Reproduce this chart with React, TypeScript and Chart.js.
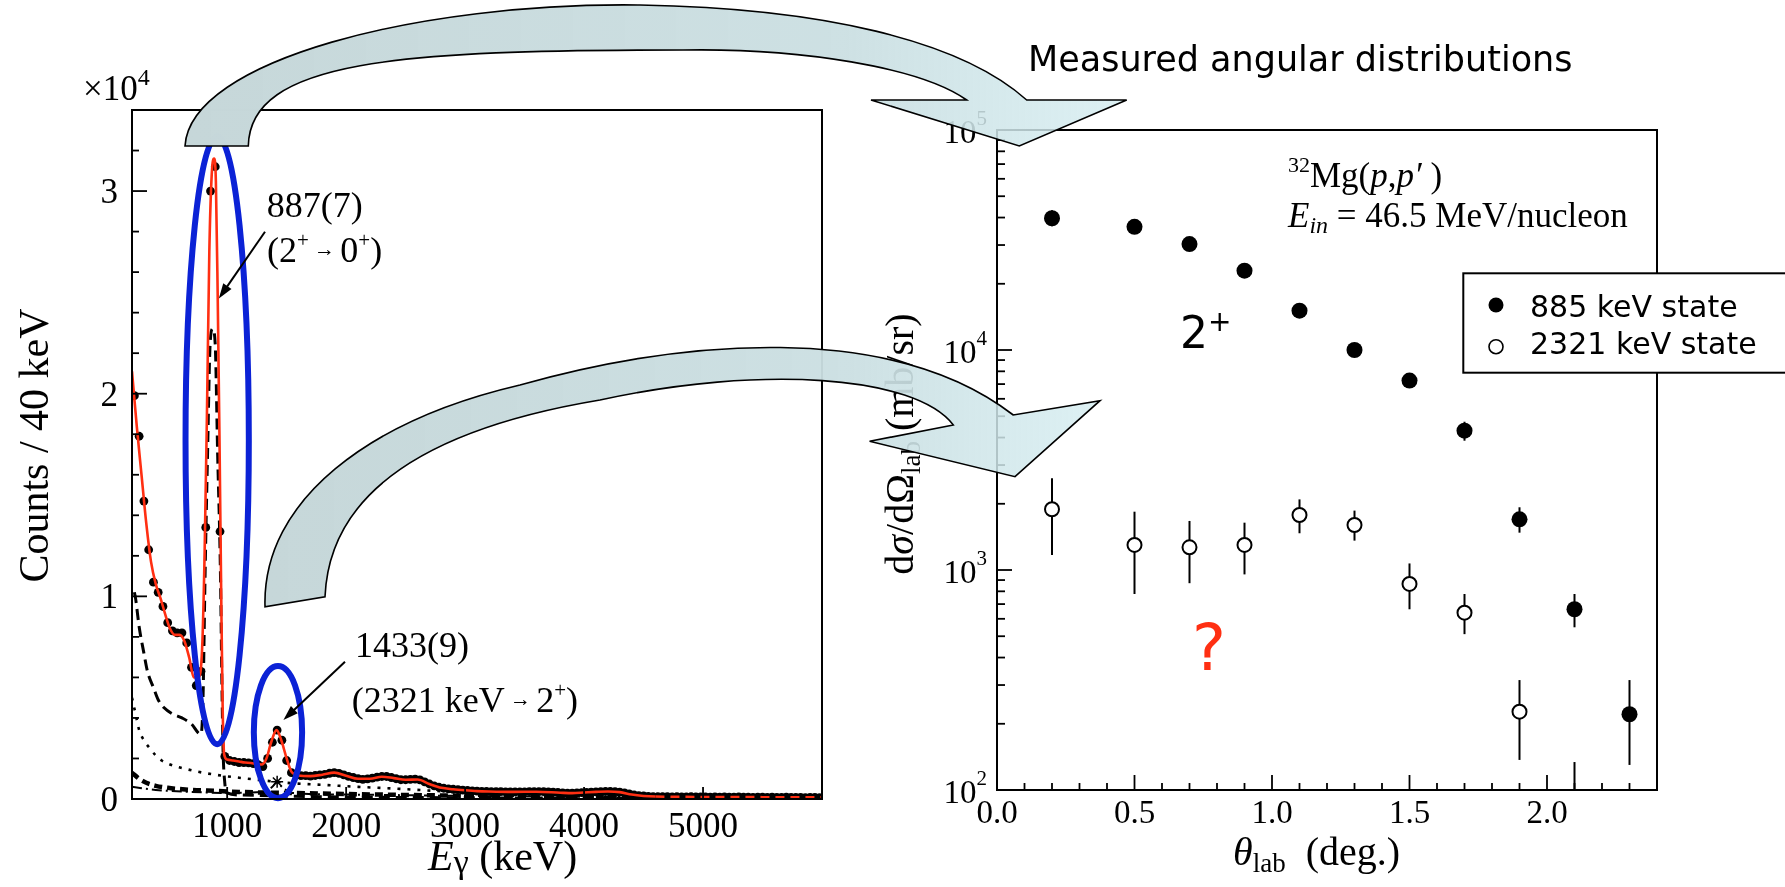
import React, { useEffect, useRef } from "react";
import { Chart, registerables } from "chart.js";

Chart.register(...registerables);

const SERIF = '"Liberation Serif", "Times New Roman", Times, serif';
const SANS = '"DejaVu Sans", Verdana, sans-serif';
const RED = "#ff2f12";
const BLUE = "#0b22d6";

// ---------------- Left panel: gamma-ray spectrum (counts in units of 10^4 / 40 keV) ----------------
const peakRegionE = [220, 260, 300, 340, 380, 420, 460, 500, 540, 580, 620, 660, 700, 740, 780, 820, 860, 900, 940, 980,
  1020, 1060, 1100, 1140, 1180, 1220, 1260, 1300, 1340, 1380, 1420, 1460, 1500, 1540];
const peakRegionCounts = [1.99, 1.79, 1.47, 1.23, 1.07, 1.02, 0.95, 0.87, 0.83, 0.82, 0.82, 0.77, 0.65, 0.56, 0.63, 1.34, 3.0, 3.12, 1.32, 0.21,
  0.19, 0.185, 0.18, 0.18, 0.178, 0.175, 0.17, 0.16, 0.2, 0.28, 0.34, 0.29, 0.19, 0.13];

const tailE = [
  1580, 1620, 1660, 1700, 1740, 1780, 1820, 1860, 1900, 1940,
  1980, 2020, 2060, 2100, 2140, 2180, 2220, 2260, 2300, 2340,
  2380, 2420, 2460, 2500, 2540, 2580, 2620, 2660, 2700, 2740,
  2780, 2820, 2860, 2900, 2940, 2980, 3020, 3060, 3100, 3140,
  3180, 3220, 3260, 3300, 3340, 3380, 3420, 3460, 3500, 3540,
  3580, 3620, 3660, 3700, 3740, 3780, 3820, 3860, 3900, 3940,
  3980, 4020, 4060, 4100, 4140, 4180, 4220, 4260, 4300, 4340,
  4380, 4420, 4460, 4500, 4540, 4580, 4620, 4660, 4700, 4740,
  4780, 4820, 4860, 4900, 4940, 4980, 5020, 5060, 5100, 5140,
  5180, 5220, 5260, 5300, 5340, 5380, 5420, 5460, 5500, 5540,
  5580, 5620, 5660, 5700, 5740, 5780, 5820, 5860, 5900, 5940,
  5980];
const tailCounts = [
  0.12, 0.115, 0.115, 0.113, 0.116, 0.119, 0.122, 0.127, 0.13, 0.126,
  0.119, 0.112, 0.106, 0.101, 0.097, 0.099, 0.103, 0.108, 0.111, 0.111,
  0.106, 0.1, 0.095, 0.095, 0.097, 0.098, 0.094, 0.085, 0.074, 0.065,
  0.058, 0.053, 0.05, 0.048, 0.046, 0.044, 0.042, 0.04, 0.039, 0.038,
  0.037, 0.036, 0.036, 0.036, 0.035, 0.035, 0.035, 0.035, 0.035, 0.036,
  0.036, 0.036, 0.036, 0.035, 0.034, 0.032, 0.03, 0.029, 0.029, 0.03,
  0.031, 0.033, 0.034, 0.035, 0.036, 0.037, 0.037, 0.036, 0.034, 0.03,
  0.025, 0.02, 0.017, 0.015, 0.013, 0.012, 0.011, 0.011, 0.011, 0.01,
  0.011, 0.01, 0.01, 0.011, 0.01, 0.01, 0.01, 0.009, 0.01, 0.009,
  0.01, 0.009, 0.009, 0.01, 0.009, 0.009, 0.008, 0.009, 0.009, 0.008,
  0.009, 0.008, 0.008, 0.009, 0.008, 0.008, 0.008, 0.007, 0.008, 0.008,
  0.007];

const fitE = [200, 240, 280, 320, 360, 400, 440, 480, 520, 560, 600, 640, 680, 720, 760, 790, 810, 830, 850, 870,
  890, 905, 920, 935, 950, 962, 975, 1000, 1050, 1100, 1150, 1200, 1250, 1290, 1330, 1370, 1415, 1455, 1500, 1540,
  1580, 1600, 1700, 1800, 1900, 2000, 2100, 2200, 2300, 2400, 2500, 2600, 2700, 2800, 2900, 3000, 3100, 3200, 3400, 3600,
  3800, 3900, 4000, 4100, 4200, 4300, 4400, 4500, 4600, 5000, 5500, 6000];
const fitCounts = [2.11, 1.84, 1.6, 1.36, 1.17, 1.06, 0.99, 0.91, 0.84, 0.81, 0.81, 0.78, 0.7, 0.6, 0.6, 0.75, 1.2, 1.9, 2.7, 3.08,
  3.16, 3.05, 2.5, 1.8, 1.0, 0.45, 0.22, 0.195, 0.19, 0.185, 0.18, 0.178, 0.172, 0.17, 0.2, 0.28, 0.34, 0.29, 0.2, 0.135,
  0.12, 0.116, 0.113, 0.12, 0.13, 0.115, 0.1, 0.1, 0.11, 0.103, 0.095, 0.096, 0.074, 0.055, 0.048, 0.043, 0.039, 0.037, 0.035, 0.036,
  0.031, 0.029, 0.032, 0.035, 0.037, 0.034, 0.022, 0.015, 0.012, 0.01, 0.009, 0.008];

const resp885E = [220, 230, 260, 300, 330, 380, 420, 470, 540, 620, 700, 776, 795, 815, 835, 857, 878, 899, 920, 943,
  955, 965, 980, 1000, 1100, 1400, 2000, 3000, 4500, 6000];
const resp885Counts = [1.02, 0.99, 0.85, 0.72, 0.63, 0.55, 0.49, 0.45, 0.42, 0.4, 0.37, 0.32, 0.45, 1.13, 1.7, 2.25, 2.32, 2.25, 1.7, 1.13,
  0.6, 0.25, 0.08, 0.03, 0.02, 0.015, 0.01, 0.006, 0.004, 0.003];

const bgE = [200, 230, 260, 300, 350, 400, 450, 500, 570, 640, 750, 920, 1100, 1265, 1540, 1825, 2100, 2450, 2750, 3000, 3500, 4000, 5000, 6000];
const bgCounts = [0.5, 0.42, 0.34, 0.29, 0.25, 0.215, 0.19, 0.175, 0.16, 0.15, 0.135, 0.118, 0.105, 0.094, 0.078, 0.069, 0.06, 0.05, 0.04, 0.034, 0.027, 0.021, 0.014, 0.01];

const lowCompE = [200, 260, 320, 400, 500, 700, 900, 1100, 1500, 2500, 4000, 6000];
const lowCompCounts = [0.13, 0.1, 0.08, 0.065, 0.055, 0.045, 0.04, 0.035, 0.03, 0.02, 0.01, 0.005];

const resp1433E = [200, 400, 700, 1000, 1300, 1380, 1420, 1460, 1550, 2000, 3000, 6000];
const resp1433Counts = [0.06, 0.045, 0.035, 0.03, 0.035, 0.06, 0.085, 0.06, 0.03, 0.022, 0.015, 0.006];

const starE = [1420];
const starCounts = [0.085];

const specXTicks = [1000, 2000, 3000, 4000, 5000];
const specYTicks = [0, 1, 2, 3];

// ---------------- Right panel: angular distributions ----------------
const theta885 = [0.2, 0.5, 0.7, 0.9, 1.1, 1.3, 1.5, 1.7, 1.9, 2.1, 2.3];
const xs885 = [39700, 36300, 30300, 22950, 15100, 10000, 7260, 4300, 1700, 663, 221];
const xs885Lo = [36500, 35500, 29600, 22400, 14700, 9750, 7080, 3870, 1478, 549, 130];
const xs885Hi = [43200, 37100, 31000, 23500, 15500, 10250, 7440, 4720, 1928, 778, 316];

const theta2321 = [0.2, 0.5, 0.7, 0.9, 1.1, 1.3, 1.5, 1.7, 1.9, 2.1];
const xs2321 = [1888, 1300, 1268, 1300, 1778, 1602, 864, 640, 227, 70];
const xs2321Lo = [1169, 778, 871, 955, 1469, 1360, 663, 511, 137, 35];
const xs2321Hi = [2612, 1841, 1671, 1641, 2094, 1862, 1071, 778, 316, 134];

const thetaTicks = [0, 0.5, 1.0, 1.5, 2.0];
const xsTicks = [100, 1000, 10000, 100000];

// ---------------- helpers ----------------
type Part = { t: string; size: number; italic?: boolean; font?: string; dy?: number; color?: string };

function fontOf(p: Part) {
  return `${p.italic ? "italic " : ""}${p.size}px ${p.font ?? SERIF}`;
}

function drawRich(ctx: CanvasRenderingContext2D, x: number, y: number, parts: Part[], align: "left" | "center" | "right" = "left") {
  const widths = parts.map((p) => {
    ctx.font = fontOf(p);
    return ctx.measureText(p.t).width;
  });
  const total = widths.reduce((s, w) => s + w, 0);
  let cx = align === "left" ? x : align === "center" ? x - total / 2 : x - total;
  ctx.textAlign = "left";
  ctx.textBaseline = "alphabetic";
  parts.forEach((p, i) => {
    ctx.font = fontOf(p);
    ctx.fillStyle = p.color ?? "#000";
    ctx.fillText(p.t, cx, y + (p.dy ?? 0));
    cx += widths[i];
  });
}

function drawArrow(ctx: CanvasRenderingContext2D, x1: number, y1: number, x2: number, y2: number, head = 15, half = 5) {
  const a = Math.atan2(y2 - y1, x2 - x1);
  const c = Math.cos(a), s = Math.sin(a);
  ctx.beginPath();
  ctx.moveTo(x1, y1);
  ctx.lineTo(x2 - c * head * 0.8, y2 - s * head * 0.8);
  ctx.stroke();
  ctx.beginPath();
  ctx.moveTo(x2, y2);
  ctx.lineTo(x2 - c * head + s * half, y2 - s * head - c * half);
  ctx.lineTo(x2 - c * head - s * half, y2 - s * head + c * half);
  ctx.closePath();
  ctx.fill();
}

const pts = (xs: number[], ys: number[]) => xs.map((x, i) => ({ x, y: ys[i] }));

// ---------------- plugins ----------------
const spectrumDecor = {
  id: "spectrumDecor",
  afterDatasetsDraw(chart: any) {
    const { ctx } = chart;
    const x = chart.scales.x, y = chart.scales.y;
    ctx.save();
    ctx.strokeStyle = BLUE;
    ctx.lineWidth = 6;
    const ell = (e: number, c: number, de: number, dc: number) => {
      const cx = x.getPixelForValue(e), cy = y.getPixelForValue(c);
      const rx = x.getPixelForValue(e + de) - cx;
      const ry = cy - y.getPixelForValue(c + dc);
      ctx.beginPath();
      ctx.ellipse(cx, cy, rx, ry, 0, 0, Math.PI * 2);
      ctx.stroke();
    };
    ell(916, 1.77, 266, 1.5);
    ell(1427, 0.33, 203, 0.326);
    ctx.restore();
  },
  afterDraw(chart: any) {
    const { ctx, chartArea: a } = chart;
    const x = chart.scales.x, y = chart.scales.y;
    ctx.save();
    ctx.strokeStyle = "#000";
    ctx.fillStyle = "#000";
    ctx.lineWidth = 2;
    ctx.strokeRect(a.left, a.top, a.right - a.left, a.bottom - a.top);
    ctx.lineWidth = 1.8;
    for (let i = 0; i <= 17; i++) {
      const v = i * 0.2;
      const py = y.getPixelForValue(v);
      const major = i % 5 === 0;
      ctx.beginPath();
      ctx.moveTo(a.left, py);
      ctx.lineTo(a.left + (major ? 15 : 7), py);
      ctx.stroke();
    }
    specXTicks.forEach((v) => {
      const px = x.getPixelForValue(v);
      ctx.beginPath();
      ctx.moveTo(px, a.bottom);
      ctx.lineTo(px, a.bottom - 12);
      ctx.stroke();
      drawRich(ctx, px, a.bottom + 37.5, [{ t: String(v), size: 35 }], "center");
    });
    specYTicks.forEach((v) => {
      const py = y.getPixelForValue(v);
      drawRich(ctx, a.left - 14, py + 12, [{ t: String(v), size: 35 }], "right");
    });
    // multiplier
    drawRich(ctx, 83, 100, [{ t: "×10", size: 35 }, { t: "4", size: 24, dy: -15 }]);
    // axis titles
    ctx.save();
    ctx.translate(48, 445.5);
    ctx.rotate(-Math.PI / 2);
    drawRich(ctx, 0, 0, [{ t: "Counts / 40 keV", size: 42 }], "center");
    ctx.restore();
    drawRich(ctx, 428, 870, [{ t: "E", size: 42, italic: true }, { t: "γ", size: 34, dy: 3 }, { t: " (keV)", size: 42 }]);
    // annotations
    drawRich(ctx, 266.7, 216.7, [{ t: "887(7)", size: 36 }]);
    drawRich(ctx, 267, 262, [
      { t: "(2", size: 36 }, { t: "+", size: 21, dy: -15 }, { t: " → ", size: 21, dy: -6 },
      { t: "0", size: 36 }, { t: "+", size: 21, dy: -15 }, { t: ")", size: 36 },
    ]);
    drawRich(ctx, 355, 656.7, [{ t: "1433(9)", size: 36 }]);
    drawRich(ctx, 351.7, 711.7, [
      { t: "(2321 keV", size: 36 }, { t: " → ", size: 21, dy: -6 }, { t: "2", size: 36 },
      { t: "+", size: 21, dy: -15 }, { t: ")", size: 36 },
    ]);
    ctx.lineWidth = 2;
    drawArrow(ctx, 265, 231.7, x.getPixelForValue(930), y.getPixelForValue(2.47));
    drawArrow(ctx, 345, 661.7, x.getPixelForValue(1473), y.getPixelForValue(0.39));
    ctx.restore();
  },
};

const angularDecor = {
  id: "angularDecor",
  beforeDatasetsDraw(chart: any) {
    const { ctx, chartArea: a } = chart;
    const x = chart.scales.x, y = chart.scales.y;
    ctx.save();
    ctx.beginPath();
    ctx.rect(a.left, a.top, a.right - a.left, a.bottom - a.top);
    ctx.clip();
    ctx.strokeStyle = "#000";
    ctx.lineWidth = 2;
    chart.data.datasets.forEach((ds: any) => {
      ds.data.forEach((p: any, i: number) => {
        const px = x.getPixelForValue(p.x);
        ctx.beginPath();
        ctx.moveTo(px, y.getPixelForValue(ds.errLo[i]));
        ctx.lineTo(px, y.getPixelForValue(ds.errHi[i]));
        ctx.stroke();
      });
    });
    ctx.restore();
  },
  afterDraw(chart: any) {
    const { ctx, chartArea: a } = chart;
    const x = chart.scales.x, y = chart.scales.y;
    ctx.save();
    ctx.strokeStyle = "#000";
    ctx.fillStyle = "#000";
    ctx.lineWidth = 2;
    ctx.strokeRect(a.left, a.top, a.right - a.left, a.bottom - a.top);
    ctx.lineWidth = 1.8;
    for (let k = 2; k <= 4; k++) {
      for (let m = 1; m <= 9; m++) {
        const py = y.getPixelForValue(m * Math.pow(10, k));
        ctx.beginPath();
        ctx.moveTo(a.left, py);
        ctx.lineTo(a.left + (m === 1 ? 15 : 8), py);
        ctx.stroke();
      }
    }
    for (let i = 1; i <= 23; i++) {
      const px = x.getPixelForValue(i / 10);
      ctx.beginPath();
      ctx.moveTo(px, a.bottom);
      ctx.lineTo(px, a.bottom - (i % 5 === 0 ? 15 : 7));
      ctx.stroke();
    }
    thetaTicks.forEach((v) => {
      drawRich(ctx, x.getPixelForValue(v), a.bottom + 33.3, [{ t: v.toFixed(1), size: 33 }], "center");
    });
    xsTicks.forEach((v) => {
      const py = y.getPixelForValue(v);
      drawRich(ctx, a.left - 10, py + 13, [{ t: "10", size: 33 }, { t: String(Math.round(Math.log10(v))), size: 21, dy: -18 }], "right");
    });
    // titles
    drawRich(ctx, 148, 71, [{ t: "Measured angular distributions", size: 35, font: SANS }]);
    drawRich(ctx, 353, 865, [
      { t: "θ", size: 40, italic: true }, { t: "lab", size: 27, dy: 7 }, { t: "  (deg.)", size: 40 },
    ]);
    ctx.save();
    ctx.translate(33, 444);
    ctx.rotate(-Math.PI / 2);
    drawRich(ctx, 0, 0, [
      { t: "d", size: 40 }, { t: "σ", size: 40, italic: true }, { t: "/dΩ", size: 40 },
      { t: "lab", size: 27, dy: 7 }, { t: " (mb/sr)", size: 40 },
    ], "center");
    ctx.restore();
    // reaction info
    drawRich(ctx, 408, 186.7, [
      { t: "32", size: 22, dy: -15 }, { t: "Mg(", size: 35 }, { t: "p", size: 35, italic: true },
      { t: ",", size: 35 }, { t: "p′", size: 35, italic: true }, { t: " )", size: 35 },
    ]);
    drawRich(ctx, 408, 226.7, [
      { t: "E", size: 35, italic: true }, { t: "in", size: 24, italic: true, dy: 6 },
      { t: " = 46.5 MeV/nucleon", size: 35 },
    ]);
    drawRich(ctx, 300, 348.3, [{ t: "2", size: 44, font: SANS }, { t: "+", size: 28, font: SANS, dy: -17 }]);
    drawRich(ctx, 312, 670, [{ t: "?", size: 64, font: SANS, color: RED }]);
    // legend
    ctx.fillStyle = "#fff";
    ctx.fillRect(583.3, 273.3, 340, 99.4);
    ctx.strokeStyle = "#000";
    ctx.lineWidth = 2;
    ctx.strokeRect(583.3, 273.3, 340, 99.4);
    const ds = chart.data.datasets;
    ctx.fillStyle = "#000";
    ctx.beginPath();
    ctx.arc(616, 305, 7.5, 0, Math.PI * 2);
    ctx.fill();
    ctx.lineWidth = 1.6;
    ctx.beginPath();
    ctx.arc(616, 346.7, 7, 0, Math.PI * 2);
    ctx.stroke();
    drawRich(ctx, 650, 316.7, [{ t: ds[0].label, size: 30, font: SANS }]);
    drawRich(ctx, 650, 353.5, [{ t: ds[1].label, size: 30, font: SANS }]);
    ctx.restore();
  },
};

// ---------------- component ----------------
export default function App() {
  const leftRef = useRef<HTMLCanvasElement>(null);
  const rightRef = useRef<HTMLCanvasElement>(null);

  useEffect(() => {
    const left = new Chart(leftRef.current as HTMLCanvasElement, {
      type: "scatter",
      data: {
        datasets: [
          {
            label: "fit", data: pts(fitE, fitCounts), showLine: true, borderColor: RED, borderWidth: 2.6,
            pointRadius: 0, cubicInterpolationMode: "monotone", order: 0,
            segment: { borderDash: (c: any) => (c.p0.parsed.x >= 4600 ? [9, 6] : undefined) },
          } as any,
          {
            label: "data", data: pts([...peakRegionE, ...tailE], [...peakRegionCounts, ...tailCounts]), showLine: false,
            pointRadius: 4.4, backgroundColor: "#000", borderWidth: 0, order: 1,
          },
          {
            label: "885 keV response", data: pts(resp885E, resp885Counts), showLine: true, borderColor: "#000",
            borderWidth: 3, borderDash: [11, 6], pointRadius: 0, cubicInterpolationMode: "monotone", order: 2,
          },
          {
            label: "background", data: pts(bgE, bgCounts), showLine: true, borderColor: "#000",
            borderWidth: 2.6, borderDash: [3, 7], pointRadius: 0, cubicInterpolationMode: "monotone", order: 3,
          },
          {
            label: "low component", data: pts(lowCompE, lowCompCounts), showLine: true, borderColor: "#000",
            borderWidth: 4.5, borderDash: [8, 5], pointRadius: 0, cubicInterpolationMode: "monotone", order: 4,
          },
          {
            label: "1433 keV response", data: pts(resp1433E, resp1433Counts), showLine: true, borderColor: "#000",
            borderWidth: 2, borderDash: [10, 4, 2, 4], pointRadius: 0, cubicInterpolationMode: "monotone", order: 5,
          },
          {
            label: "marker", data: pts(starE, starCounts), showLine: false, pointStyle: "star", pointRadius: 6,
            borderColor: "#000", borderWidth: 1.5, backgroundColor: "#fff", order: 6,
          },
        ],
      },
      options: {
        animation: false,
        responsive: false,
        events: [],
        layout: { padding: { left: 132, top: 110, right: 58, bottom: 88 } },
        plugins: { legend: { display: false }, tooltip: { enabled: false } },
        scales: {
          x: { type: "linear", min: 200, max: 6000, display: false },
          y: { type: "linear", min: 0, max: 3.4, display: false },
        },
      },
      plugins: [spectrumDecor],
    });

    const right = new Chart(rightRef.current as HTMLCanvasElement, {
      type: "scatter",
      data: {
        datasets: [
          {
            label: "885 keV state", data: pts(theta885, xs885), errLo: xs885Lo, errHi: xs885Hi,
            pointRadius: 8, backgroundColor: "#000", borderColor: "#000", borderWidth: 0,
          } as any,
          {
            label: "2321 keV state", data: pts(theta2321, xs2321), errLo: xs2321Lo, errHi: xs2321Hi,
            pointRadius: 7, backgroundColor: "#fff", borderColor: "#000", borderWidth: 2,
          } as any,
        ],
      },
      options: {
        animation: false,
        responsive: false,
        events: [],
        layout: { padding: { left: 117, top: 130, right: 128, bottom: 97 } },
        plugins: { legend: { display: false }, tooltip: { enabled: false } },
        scales: {
          x: { type: "linear", min: 0, max: 2.4, display: false },
          y: { type: "logarithmic", min: 100, max: 100000, display: false },
        },
      },
      plugins: [angularDecor],
    });

    return () => {
      left.destroy();
      right.destroy();
    };
  }, []);

  return (
    <div style={{ position: "fixed", left: 0, top: 0, width: 1785, height: 887, background: "#fff", overflow: "hidden" }}>
      <canvas ref={leftRef} width={880} height={887} style={{ position: "absolute", left: 0, top: 0, width: 880, height: 887 }} />
      <canvas ref={rightRef} width={905} height={887} style={{ position: "absolute", left: 880, top: 0, width: 905, height: 887 }} />
      <svg width={1785} height={887} style={{ position: "absolute", left: 0, top: 0, pointerEvents: "none" }}>
        <defs>
          <linearGradient id="bandUp" gradientUnits="userSpaceOnUse" x1={185} y1={0} x2={1127} y2={0}>
            <stop offset="0" stopColor="#c6d7d9" stopOpacity={1} />
            <stop offset="0.7" stopColor="#cbdfe2" stopOpacity={0.95} />
            <stop offset="1" stopColor="#d3ecf0" stopOpacity={0.78} />
          </linearGradient>
          <linearGradient id="bandLow" gradientUnits="userSpaceOnUse" x1={265} y1={0} x2={1100} y2={0}>
            <stop offset="0" stopColor="#c6d7d9" stopOpacity={1} />
            <stop offset="0.7" stopColor="#cbdfe2" stopOpacity={0.95} />
            <stop offset="1" stopColor="#d3ecf0" stopOpacity={0.78} />
          </linearGradient>
        </defs>
        <path
          d="M 185 146 C 190 60 420 2 640 5 C 820 8 960 40 1026.7 100 L 1126.7 100 L 1019.3 146 L 871 100 L 966.7 100 C 920 67 800 48 683 50 C 400 50 250 60 248.3 146 Z"
          fill="url(#bandUp)" stroke="#000" strokeWidth={1.6} strokeLinejoin="miter"
        />
        <path
          d="M 265 606.7 C 262 500 370 420 520 385 C 680 340 890 320 1013.3 415 L 1100 400.7 L 1015 476.7 L 869.6 441.3 L 953.3 425 C 915 375 760 365 600 400 C 450 425 330 480 325 596.7 Z"
          fill="url(#bandLow)" stroke="#000" strokeWidth={1.6} strokeLinejoin="miter"
        />
      </svg>
    </div>
  );
}
